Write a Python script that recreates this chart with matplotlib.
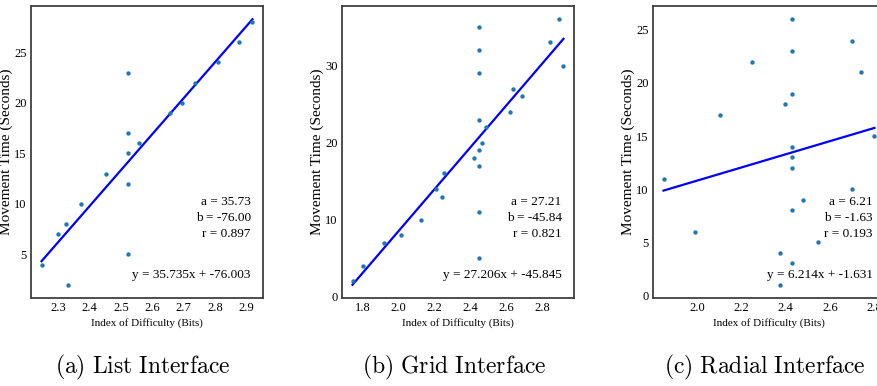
import matplotlib
matplotlib.use("Agg")
import matplotlib.pyplot as plt
import numpy as np

plt.rcParams.update({"font.family": ["Liberation Serif", "DejaVu Serif"],
                     "mathtext.fontset": "cm"})

# (a) List interface
list_id = [2.248, 2.300, 2.326, 2.333, 2.373, 2.454, 2.524, 2.524, 2.524, 2.524,
           2.524, 2.557, 2.655, 2.695, 2.736, 2.810, 2.874, 2.918]
list_mt = [4, 7, 8, 2, 10, 13, 23, 17, 15, 12, 5, 16, 19, 20, 22, 24, 26, 28]

# (b) Grid interface
grid_id = [1.743, 1.800, 1.916, 2.013, 2.123, 2.207, 2.240, 2.249, 2.419,
           2.443, 2.443, 2.443, 2.443, 2.443, 2.443, 2.443, 2.443,
           2.464, 2.484, 2.619, 2.634, 2.685, 2.842, 2.889, 2.915]
grid_mt = [2, 4, 7, 8, 10, 14, 13, 16, 18, 35, 32, 29, 23, 19, 17, 11, 5,
           20, 22, 24, 27, 26, 33, 36, 30]

# (c) Radial interface
radial_id = [1.850, 1.992, 2.104, 2.250, 2.395, 2.376, 2.373,
             2.427, 2.427, 2.427, 2.427, 2.427, 2.427, 2.427, 2.427,
             2.477, 2.547, 2.699, 2.698, 2.740, 2.800]
radial_mt = [11, 6, 17, 22, 18, 4, 1, 26, 23, 19, 14, 13, 12, 8, 3,
             9, 5, 24, 10, 21, 15]

# fitted coefficients as printed on each panel
slopes = [35.735, 27.206, 6.214]
intercepts = [-76.003, -45.845, -1.631]
r_values = [0.897, 0.821, 0.193]
captions = ["(a) List Interface", "(b) Grid Interface", "(c) Radial Interface"]
xticks = [[2.3, 2.4, 2.5, 2.6, 2.7, 2.8, 2.9],
          [1.8, 2.0, 2.2, 2.4, 2.6, 2.8],
          [2.0, 2.2, 2.4, 2.6, 2.8]]
yticks = [[5, 10, 15, 20, 25], [0, 10, 20, 30], [0, 5, 10, 15, 20, 25]]

W, H = 878, 386
fig = plt.figure(figsize=(W / 100, H / 100), dpi=100)
lefts = [31, 342, 653]
panels = [(list_id, list_mt), (grid_id, grid_mt), (radial_id, radial_mt)]

for i, (xs, ys) in enumerate(panels):
    ax = fig.add_axes([lefts[i] / W, (H - 298) / H, 232 / W, 292 / H])
    xs = np.array(xs); ys = np.array(ys)
    a, b = slopes[i], intercepts[i]
    xl = np.sort(xs)
    ax.scatter(xs, ys, s=10, color="#1f77b4", linewidths=0, zorder=3)
    ax.plot(xl, a * xl + b, color="blue", lw=1.6, zorder=2)
    ax.set_xticks(xticks[i])
    ax.set_xticklabels([f"{t:.1f}" for t in xticks[i]])
    ax.set_yticks(yticks[i])
    ax.text(0.947, 0.274, f"a = {a:.2f}\nb = -{abs(b):.2f}\nr = {r_values[i]:.3f}",
            transform=ax.transAxes, ha="right", va="center", fontsize=9.5,
            linespacing=1.4)
    ax.text(0.947, 0.079, f"y = {a:.3f}x + -{abs(b):.3f}",
            transform=ax.transAxes, ha="right", va="center", fontsize=9.5)
    ax.set_xlabel("Index of Difficulty (Bits)", fontsize=8, labelpad=3)
    ax.set_ylabel("Movement Time (Seconds)", fontsize=11, labelpad=1)
    ax.tick_params(labelsize=9, length=0, pad=3)
    for sp in ax.spines.values():
        sp.set_color("0.25"); sp.set_linewidth(1.3)
    fig.text((lefts[i] + 112) / W, (H - 367) / H,
             "$\\mathrm{" + captions[i].replace(" ", "\\ ") + "}$",
             ha="center", va="center", fontsize=17)

fig.savefig("out.png", dpi=100)
